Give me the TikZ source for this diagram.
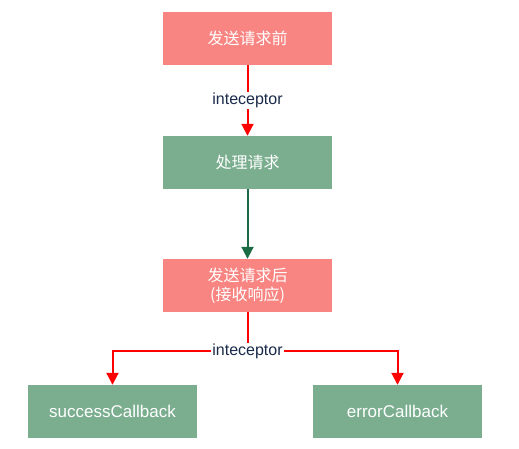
\documentclass[tikz,border=0pt]{standalone}
\usepackage{fontspec}
\setmainfont{Liberation Sans}
\newfontfamily\cjk{Noto Sans CJK SC}
\usetikzlibrary{arrows.meta}
\definecolor{boxred}{HTML}{F98582}
\definecolor{boxgreen}{HTML}{7AAE8F}
\definecolor{linegreen}{HTML}{1B6B45}
\definecolor{labelblue}{HTML}{1A2A4A}
\tikzset{
  stepred/.style={fill=boxred, text=white, minimum width=169pt, minimum height=53pt, inner sep=0pt, align=center, font=\fontsize{16}{19}\selectfont\cjk},
  stepgreen/.style={fill=boxgreen, text=white, minimum width=169pt, minimum height=53pt, inner sep=0pt, align=center, font=\fontsize{17}{20}\selectfont},
  redline/.style={color=red, line width=2pt, -{Triangle[width=12pt,length=12pt]}},
  greenline/.style={color=linegreen, line width=2pt, -{Triangle[width=12pt,length=12pt]}},
  hook/.style={fill=white, text=labelblue, inner sep=1pt, font=\fontsize{16}{19}\selectfont}
}
\begin{document}
\begin{tikzpicture}[x=1pt, y=-1pt]
  \useasboundingbox (0,0) rectangle (519,449);
  % Request side
  \node[stepred] (before) at (247.5, 38.5) {发送请求前};
  \node[stepgreen] (handle) at (247.5, 162.5) {\cjk\fontsize{16}{19}\selectfont 处理请求};
  \node[stepred] (after) at (247.5, 285.5) {发送请求后\\(接收响应)};

  % Response side
  \node[stepgreen] (success) at (112.5, 411.5) {successCallback};
  \node[stepgreen] (error) at (397.5, 411.5) {errorCallback};

  % Connectors
  \draw[redline] (before) -- (handle) node[hook, midway] (hooktop) {inteceptor};
  \draw[greenline] (handle) -- (after);
  \coordinate (split) at (247.5, 351);
  \draw[redline] (after) -- (split) -| (success);
  \draw[redline] (split) -| (error);
  \node[hook] (hookbottom) at (split) {inteceptor};
\end{tikzpicture}
\end{document}
